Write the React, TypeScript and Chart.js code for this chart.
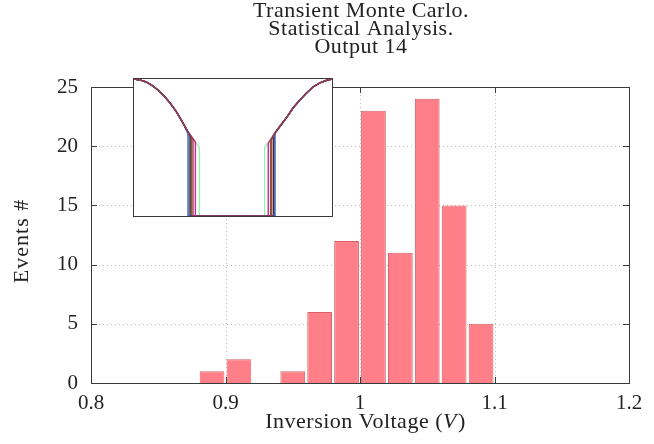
import React, { useEffect, useRef } from 'react';
import { Chart, registerables } from 'chart.js';
Chart.register(...registerables);

// ---- Histogram data ----
const binCenters = [0.89, 0.91, 0.95, 0.97, 0.99, 1.01, 1.03, 1.05, 1.07, 1.09];
const eventCounts = [1, 2, 1, 6, 12, 23, 11, 24, 15, 5];
const xTickValues = [0.8, 0.9, 1.0, 1.1, 1.2];
const yTickValues = [0, 5, 10, 15, 20, 25];
const titleLines = ['Transient Monte Carlo.', 'Statistical Analysis.', 'Output 14'];
const xTitleParts = ['Inversion Voltage (', 'V', ')'];
const yTitle = 'Events #';

// ---- Inset waveform data (time 0..100, normalised voltage 0..1) ----
const envelopeLeftX = [0, 3.0, 6.1, 9.1, 12.1, 15.2, 18.2, 21.2, 24.2, 27.3];
const envelopeLeftY = [1, 0.993, 0.978, 0.953, 0.92, 0.876, 0.825, 0.766, 0.693, 0.613];
const envelopeRightX = [71.2, 74.2, 77.3, 80.3, 83.8, 86.9, 90.4, 93.9, 97.0, 100];
const envelopeRightY = [0.606, 0.664, 0.723, 0.788, 0.847, 0.894, 0.942, 0.971, 0.989, 1.0];
const traceColors = ['#9b3a4c', '#3a56c8', '#222222', '#8b5a2b', '#cc2a8a', '#9aeebb'];
const traceFallX = [29.8, 27.3, 28.3, 29.0, 31.0, 33.0];
const traceFallY = [0.56, 0.6, 0.58, 0.57, 0.54, 0.5];
const traceRiseX = [69.6, 71.2, 70.6, 69.0, 67.8, 66.0];
const traceRiseY = [0.56, 0.606, 0.58, 0.55, 0.53, 0.5];

const SERIF = '"Liberation Serif", "Times New Roman", serif';
const AXIS_COLOR = '#3a3a3a';

function tracePoints(i: number) {
  const pts: { x: number; y: number }[] = [];
  envelopeLeftX.forEach((x, k) => {
    if (x < traceFallX[i]) pts.push({ x, y: envelopeLeftY[k] });
  });
  pts.push(
    { x: traceFallX[i], y: traceFallY[i] },
    { x: traceFallX[i], y: 0 },
    { x: traceRiseX[i], y: 0 },
    { x: traceRiseX[i], y: traceRiseY[i] }
  );
  envelopeRightX.forEach((x, k) => {
    if (x > traceRiseX[i]) pts.push({ x, y: envelopeRightY[k] });
  });
  return pts;
}

const framePlugin = {
  id: 'frame',
  beforeDatasetsDraw(chart: any) {
    const { ctx, chartArea: a, scales } = chart;
    const x = scales.x;
    const y = scales.y;
    ctx.save();
    ctx.strokeStyle = '#bdbdbd';
    ctx.lineWidth = 1;
    ctx.setLineDash([1, 3]);
    xTickValues.slice(1, -1).forEach((v) => {
      const px = Math.round(x.getPixelForValue(v)) + 0.5;
      ctx.beginPath();
      ctx.moveTo(px, a.top);
      ctx.lineTo(px, a.bottom);
      ctx.stroke();
    });
    yTickValues.slice(1, -1).forEach((v) => {
      const py = Math.round(y.getPixelForValue(v)) + 0.5;
      ctx.beginPath();
      ctx.moveTo(a.left, py);
      ctx.lineTo(a.right, py);
      ctx.stroke();
    });
    ctx.restore();
  },
  afterDraw(chart: any) {
    const { ctx, chartArea: a, scales } = chart;
    const x = scales.x;
    const y = scales.y;
    ctx.save();
    ctx.strokeStyle = AXIS_COLOR;
    ctx.lineWidth = 1;
    ctx.strokeRect(Math.round(a.left) + 0.5, Math.round(a.top) + 0.5, Math.round(a.right - a.left), Math.round(a.bottom - a.top));
    const tl = 6;
    ctx.beginPath();
    xTickValues.slice(1, -1).forEach((v) => {
      const px = Math.round(x.getPixelForValue(v)) + 0.5;
      ctx.moveTo(px, a.bottom);
      ctx.lineTo(px, a.bottom - tl);
      ctx.moveTo(px, a.top);
      ctx.lineTo(px, a.top + tl);
    });
    yTickValues.slice(1, -1).forEach((v) => {
      const py = Math.round(y.getPixelForValue(v)) + 0.5;
      ctx.moveTo(a.left, py);
      ctx.lineTo(a.left + tl, py);
      ctx.moveTo(a.right, py);
      ctx.lineTo(a.right - tl, py);
    });
    ctx.stroke();

    // Title
    ctx.fillStyle = '#222';
    ctx.font = `22px ${SERIF}`;
    (ctx as any).letterSpacing = '0.5px';
    ctx.textAlign = 'center';
    ctx.textBaseline = 'alphabetic';
    const cx = (a.left + a.right) / 2 + 1;
    titleLines.forEach((t, i) => ctx.fillText(t, cx, 17 + i * 18));

    // X axis title with italic V
    const normal = `22px ${SERIF}`;
    const italic = `italic 22px ${SERIF}`;
    ctx.textAlign = 'left';
    const fonts = [normal, italic, normal];
    const widths = xTitleParts.map((p, i) => {
      ctx.font = fonts[i];
      return ctx.measureText(p).width;
    });
    const total = widths.reduce((s, w) => s + w, 0);
    let sx = 365 - total / 2;
    xTitleParts.forEach((p, i) => {
      ctx.font = fonts[i];
      ctx.fillText(p, sx, 428);
      sx += widths[i] + (i === 1 ? 1 : 0);
    });

    // Y axis title
    ctx.font = normal;
    (ctx as any).letterSpacing = '1px';
    ctx.textAlign = 'center';
    ctx.translate(28, 241);
    ctx.rotate(-Math.PI / 2);
    ctx.fillText(yTitle, 0, 0);
    ctx.restore();
  },
};

const insetFrame = {
  id: 'insetFrame',
  afterDraw(chart: any) {
    const { ctx, width, height } = chart;
    ctx.save();
    ctx.strokeStyle = AXIS_COLOR;
    ctx.lineWidth = 1;
    ctx.strokeRect(0.5, 0.5, width - 1, height - 1);
    ctx.restore();
  },
};

export default function App() {
  const mainRef = useRef<HTMLCanvasElement>(null);
  const insetRef = useRef<HTMLCanvasElement>(null);

  useEffect(() => {
    const tickFont = { family: SERIF, size: 21 };
    const main = new Chart(mainRef.current as HTMLCanvasElement, {
      type: 'bar',
      data: {
        datasets: [
          {
            data: binCenters.map((x, i) => ({ x, y: eventCounts[i] })),
            backgroundColor: '#ff7f88',
            borderColor: '#d9606c',
            borderWidth: 1,
            barPercentage: 0.92,
            categoryPercentage: 1,
          },
        ],
      },
      options: {
        responsive: false,
        animation: false,
        layout: { padding: { top: 87, right: 25, left: 0, bottom: 0 } },
        plugins: {
          legend: { display: false },
          title: { display: false },
          tooltip: { enabled: false },
        },
        scales: {
          x: {
            type: 'linear',
            min: 0.8,
            max: 1.2,
            offset: false,
            grid: { display: false, drawTicks: false },
            border: { display: false },
            afterBuildTicks: (s: any) => {
              s.ticks = xTickValues.map((v) => ({ value: v }));
            },
            afterFit: (s: any) => {
              s.height = 61;
            },
            ticks: {
              font: tickFont,
              color: '#222',
              padding: 8,
              maxRotation: 0,
              autoSkip: false,
              callback: (v: any) => String(Number(Number(v).toFixed(2))),
            },
          },
          y: {
            type: 'linear',
            min: 0,
            max: 25,
            grid: { display: false, drawTicks: false },
            border: { display: false },
            afterBuildTicks: (s: any) => {
              s.ticks = yTickValues.map((v) => ({ value: v }));
            },
            afterFit: (s: any) => {
              s.width = 91;
            },
            ticks: { font: tickFont, color: '#222', padding: 13 },
          },
        },
      } as any,
      plugins: [framePlugin],
    });

    const inset = new Chart(insetRef.current as HTMLCanvasElement, {
      type: 'line',
      data: {
        datasets: traceColors.map((c, i) => ({
          data: tracePoints(i),
          borderColor: c,
          borderWidth: 1.4,
          pointRadius: 0,
          tension: 0,
          fill: false,
        })),
      },
      options: {
        responsive: false,
        animation: false,
        layout: { padding: 1 },
        plugins: { legend: { display: false }, tooltip: { enabled: false } },
        scales: {
          x: { type: 'linear', min: 0, max: 100, display: false },
          y: { type: 'linear', min: 0, max: 1, display: false },
        },
      } as any,
      plugins: [insetFrame],
    });

    return () => {
      main.destroy();
      inset.destroy();
    };
  }, []);

  return (
    <div style={{ position: 'fixed', left: 0, top: 0, width: 654, height: 444, background: '#fff' }}>
      <canvas ref={mainRef} width={654} height={444} style={{ position: 'absolute', left: 0, top: 0 }} />
      <canvas
        ref={insetRef}
        width={200}
        height={139}
        style={{ position: 'absolute', left: 133, top: 78, background: '#fff' }}
      />
    </div>
  );
}
